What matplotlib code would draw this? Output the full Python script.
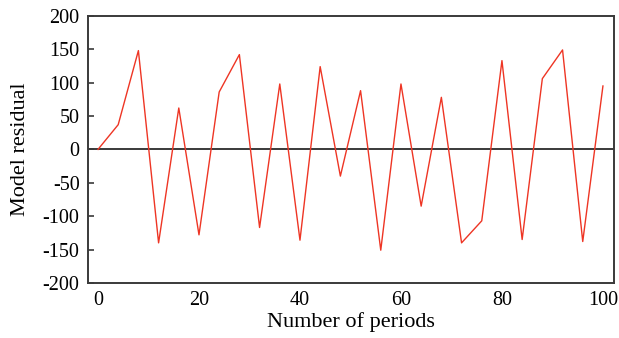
import matplotlib
matplotlib.use("Agg")
import matplotlib.pyplot as plt

plt.rcParams['font.family'] = ['Liberation Serif', 'DejaVu Serif']
plt.rcParams['axes.unicode_minus'] = False

# data
periods = [0, 4, 8, 12, 16, 20, 24, 28, 32, 36, 40, 44, 48, 52, 56, 60,
           64, 68, 72, 76, 80, 84, 88, 92, 96, 100]
residual = [0, 37, 148, -140, 62, -128, 86, 142, -117, 98, -136, 124, -40,
            88, -151, 98, -85, 78, -140, -107, 133, -135, 106, 149, -138, 95]
y_ticks = [-200, -150, -100, -50, 0, 50, 100, 150, 200]
x_ticks = [0, 20, 40, 60, 80, 100]

fig = plt.figure(figsize=(6.19, 3.38), dpi=100)
ax = fig.add_axes([0.142, 0.163, 0.850, 0.790])

ax.axhline(0, color="#3a3a3a", linewidth=1.4, zorder=1)
ax.plot(periods, residual, color="#ee3524", linewidth=1.0, zorder=2)

ax.set_xlim(-2, 102.2)
ax.set_ylim(-200, 200)
ax.set_yticks(y_ticks)
ax.set_xticks(x_ticks)

for s in ax.spines.values():
    s.set_color("#3a3a3a")
    s.set_linewidth(1.4)

ax.tick_params(axis="y", direction="in", length=4, width=1.2, color="#3a3a3a",
               labelsize=14.5, pad=6)
ax.tick_params(axis="x", length=0, labelsize=14.5, pad=6)

ax.set_xlabel("Number of periods", fontsize=16, labelpad=1)
ax.set_ylabel("Model residual", fontsize=16, labelpad=9)

fig.savefig("out.png", dpi=100)
